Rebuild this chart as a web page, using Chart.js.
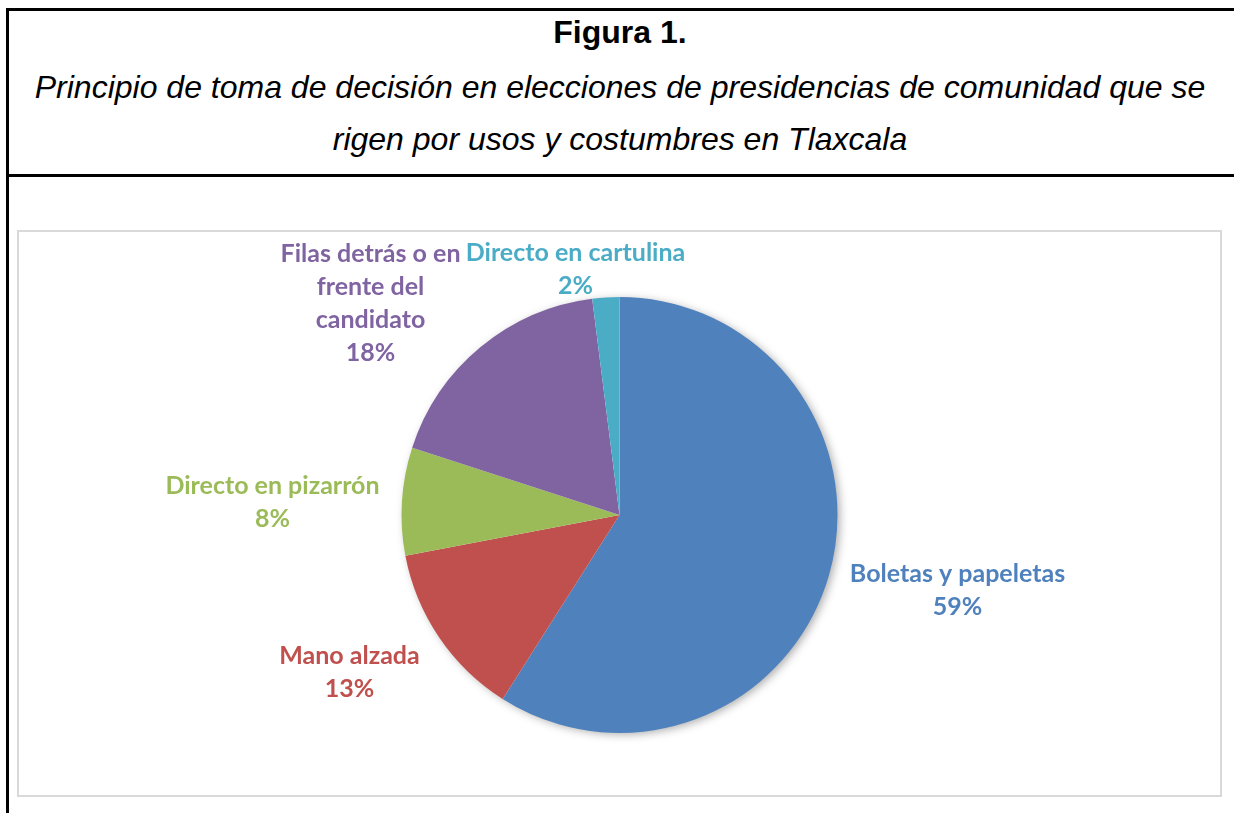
<!DOCTYPE html>
<html lang="es">
<head>
<meta charset="utf-8">
<title>Figura 1</title>
<script src="https://cdn.jsdelivr.net/npm/chart.js@4/dist/chart.umd.min.js"></script>
<style>
  html, body { margin: 0; padding: 0; background: #fff; overflow: hidden; }
  body { width: 1234px; height: 813px; position: relative; font-family: "Liberation Sans", Arial, sans-serif; }
  .frame { position: absolute; left: 6px; top: 8px; width: 1260px; height: 820px; border-left: 3px solid #000; border-top: 3px solid #000; }
  .sep { position: absolute; left: 6px; top: 174px; width: 1260px; height: 3px; background: #000; }
  .ttl { position: absolute; left: 0; width: 1240px; text-align: center; font-size: 32px; color: #000; line-height: 40px; white-space: nowrap; }
  .chartBox { position: absolute; left: 17px; top: 230px; width: 1201px; height: 563px; border: 2px solid #d9d9d9; }
</style>
</head>
<body>
  <div class="frame"></div>
  <div class="sep"></div>
  <div class="ttl" style="top:12px; font-weight:bold;">Figura 1.</div>
  <div class="ttl" style="top:67px; font-style:italic;">Principio de toma de decisión en elecciones de presidencias de comunidad que se</div>
  <div class="ttl" style="top:119px; font-style:italic;">rigen por usos y costumbres en Tlaxcala</div>

  <div class="chartBox"><canvas id="pieChart"></canvas></div>

<script>
const categories = ["Boletas y papeletas", "Mano alzada", "Directo en pizarrón", "Filas detrás o en frente del candidato", "Directo en cartulina"];
const percents = [59, 13, 8, 18, 2];
const colors = ["#4F81BD", "#C0504D", "#9BBB59", "#8064A2", "#4BACC6"];

// como Excel parte las etiquetas en líneas
const labelLines = [
  ["Boletas y papeletas"],
  ["Mano alzada"],
  ["Directo en pizarrón"],
  ["Filas detrás o en", "frente del", "candidato"],
  ["Directo en cartulina"],
];

// posición de cada bloque de texto respecto al centro del pastel (px)
const labelOffsets = [
  [338, 75],
  [-270, 157],
  [-347, -13],
  [-249, -212],
  [-44, -246],
];

const pieShadow = {
  id: "pieShadow",
  beforeDatasetsDraw(chart) {
    const arc = chart.getDatasetMeta(0).data[0];
    if (!arc) return;
    const ctx = chart.ctx;
    ctx.save();
    ctx.shadowColor = "rgba(0,0,0,0.35)";
    ctx.shadowBlur = 10;
    ctx.shadowOffsetX = 3;
    ctx.shadowOffsetY = 2;
    ctx.fillStyle = "#fff";
    ctx.beginPath();
    ctx.arc(arc.x, arc.y, arc.outerRadius - 1, 0, Math.PI * 2);
    ctx.fill();
    ctx.restore();
  },
};

const outLabels = {
  id: "outLabels",
  afterDatasetsDraw(chart) {
    const meta = chart.getDatasetMeta(0);
    const ctx = chart.ctx;
    ctx.save();
    ctx.font = 'bold 25px "Lato", "Open Sans", sans-serif';
    ctx.textAlign = "center";
    ctx.textBaseline = "middle";
    const lh = 33;
    meta.data.forEach((arc, i) => {
      const lines = labelLines[i].concat([percents[i] + "%"]);
      const cx = arc.x + labelOffsets[i][0];
      const cy = arc.y + labelOffsets[i][1];
      const y0 = cy - ((lines.length - 1) * lh) / 2;
      ctx.fillStyle = colors[i];
      lines.forEach((t, k) => ctx.fillText(t, cx, y0 + k * lh));
    });
    ctx.restore();
  },
};

new Chart(document.getElementById("pieChart").getContext("2d"), {
  type: "pie",
  data: {
    labels: categories,
    datasets: [
      {
        data: percents,
        backgroundColor: colors,
        borderWidth: 0,
        hoverOffset: 0,
      },
    ],
  },
  options: {
    responsive: true,
    maintainAspectRatio: false,
    animation: false,
    layout: { padding: { top: 65, bottom: 62, left: 300, right: 300 } },
    plugins: {
      legend: { display: false },
      tooltip: { enabled: false },
    },
  },
  plugins: [pieShadow, outLabels],
});
</script>
</body>
</html>
